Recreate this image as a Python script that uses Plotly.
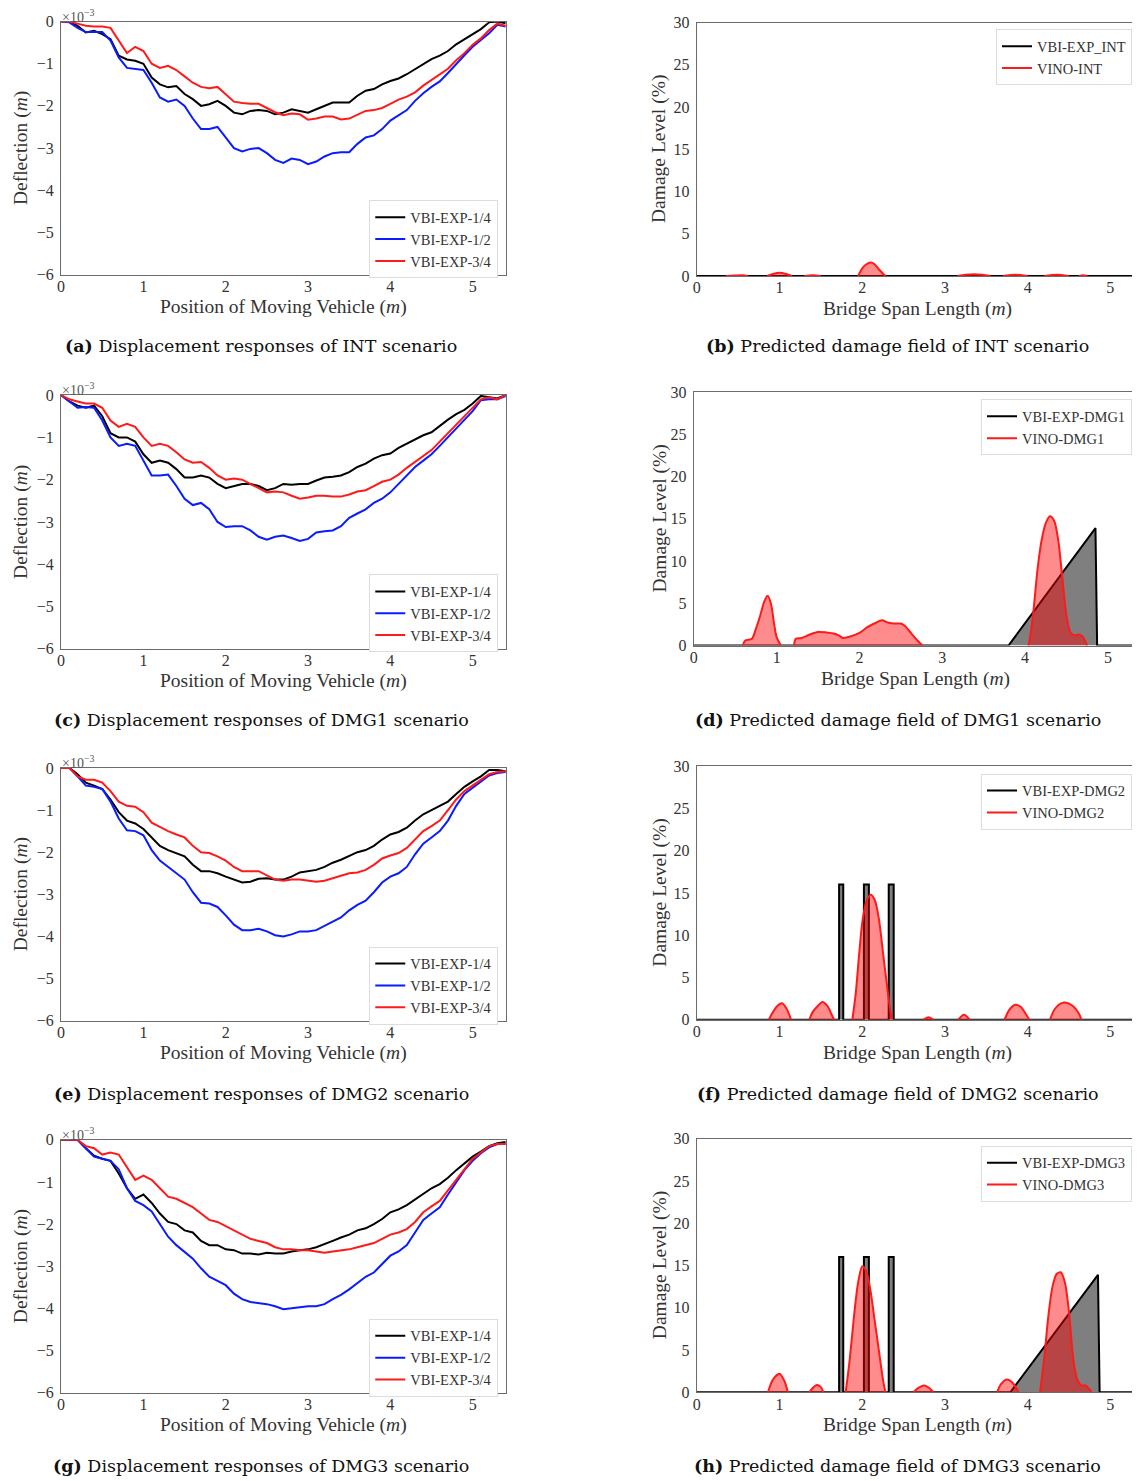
import numpy as np
import plotly.graph_objects as go

# ---------------- data ----------------
pos = [round(v, 1) for v in np.arange(0, 5.45, 0.1)]  # vehicle position grid (m)

int_b = [0, 0, -0.1, -0.26, -0.22, -0.3, -0.42, -0.81, -0.9, -0.93, -1.0, -1.33, -1.49, -1.56, -1.53, -1.72, -1.84, -2.0, -1.96, -1.88, -2.0, -2.16, -2.2, -2.12, -2.1, -2.12, -2.2, -2.16, -2.08, -2.12, -2.16, -2.08, -2.0, -1.92, -1.92, -1.92, -1.76, -1.64, -1.6, -1.49, -1.41, -1.35, -1.25, -1.13, -1.01, -0.89, -0.81, -0.7, -0.54, -0.42, -0.3, -0.18, -0.02, 0, -0.04]
int_u = [0, -0.02, -0.15, -0.25, -0.25, -0.25, -0.45, -0.85, -1.1, -1.12, -1.15, -1.45, -1.8, -1.9, -1.85, -2.0, -2.3, -2.55, -2.55, -2.5, -2.75, -3.0, -3.08, -3.02, -3.0, -3.12, -3.28, -3.35, -3.25, -3.28, -3.38, -3.32, -3.2, -3.12, -3.1, -3.1, -2.9, -2.75, -2.7, -2.55, -2.35, -2.22, -2.1, -1.88, -1.7, -1.55, -1.42, -1.22, -1.0, -0.8, -0.6, -0.45, -0.28, -0.08, -0.12]
int_r = [0, 0, -0.05, -0.1, -0.12, -0.12, -0.15, -0.45, -0.75, -0.6, -0.7, -1.0, -1.1, -1.05, -1.15, -1.3, -1.45, -1.55, -1.58, -1.55, -1.72, -1.9, -1.93, -1.95, -1.95, -2.05, -2.15, -2.22, -2.18, -2.2, -2.33, -2.3, -2.25, -2.25, -2.32, -2.3, -2.2, -2.12, -2.1, -2.05, -1.95, -1.85, -1.78, -1.68, -1.52, -1.38, -1.25, -1.12, -0.92, -0.75, -0.55, -0.4, -0.2, -0.05, -0.1]

dmg1_b = [0, -0.15, -0.25, -0.3, -0.25, -0.5, -0.9, -1.0, -1.0, -1.1, -1.4, -1.6, -1.55, -1.6, -1.75, -1.95, -1.95, -1.9, -1.95, -2.1, -2.2, -2.15, -2.1, -2.1, -2.15, -2.25, -2.2, -2.1, -2.12, -2.1, -2.1, -2.02, -1.95, -1.93, -1.9, -1.82, -1.7, -1.62, -1.5, -1.42, -1.38, -1.25, -1.15, -1.05, -0.95, -0.88, -0.72, -0.58, -0.45, -0.35, -0.2, -0.02, -0.05, -0.08, 0]
dmg1_u = [0, -0.15, -0.3, -0.28, -0.3, -0.6, -1.0, -1.2, -1.15, -1.2, -1.55, -1.9, -1.9, -1.88, -2.15, -2.45, -2.6, -2.55, -2.7, -3.0, -3.12, -3.1, -3.1, -3.2, -3.35, -3.42, -3.35, -3.32, -3.38, -3.45, -3.4, -3.25, -3.22, -3.2, -3.1, -2.9, -2.8, -2.7, -2.55, -2.45, -2.3, -2.1, -1.9, -1.7, -1.55, -1.4, -1.2, -1.0, -0.8, -0.6, -0.38, -0.12, -0.1, -0.1, -0.02]
dmg1_r = [0, -0.1, -0.15, -0.2, -0.2, -0.3, -0.6, -0.75, -0.68, -0.75, -1.0, -1.2, -1.15, -1.2, -1.35, -1.52, -1.6, -1.58, -1.72, -1.9, -2.0, -1.97, -2.0, -2.1, -2.2, -2.3, -2.28, -2.3, -2.38, -2.45, -2.42, -2.38, -2.38, -2.4, -2.4, -2.35, -2.28, -2.25, -2.15, -2.05, -2.0, -1.88, -1.72, -1.58, -1.45, -1.3, -1.1, -0.9, -0.7, -0.5, -0.3, -0.1, -0.05, -0.1, 0]

dmg2_b = [0, 0, -0.15, -0.35, -0.42, -0.5, -0.75, -1.05, -1.25, -1.32, -1.45, -1.65, -1.85, -1.95, -2.02, -2.1, -2.3, -2.45, -2.45, -2.5, -2.58, -2.65, -2.72, -2.7, -2.63, -2.62, -2.65, -2.65, -2.58, -2.48, -2.45, -2.42, -2.35, -2.25, -2.18, -2.08, -2.0, -1.95, -1.85, -1.7, -1.58, -1.52, -1.42, -1.25, -1.1, -1.0, -0.9, -0.8, -0.62, -0.45, -0.32, -0.2, -0.05, -0.05, -0.08]
dmg2_u = [0, 0, -0.2, -0.42, -0.45, -0.5, -0.8, -1.2, -1.48, -1.5, -1.6, -1.95, -2.2, -2.35, -2.5, -2.65, -2.95, -3.2, -3.22, -3.3, -3.5, -3.72, -3.85, -3.85, -3.82, -3.88, -3.97, -4.0, -3.95, -3.88, -3.88, -3.85, -3.75, -3.65, -3.55, -3.38, -3.25, -3.15, -2.95, -2.72, -2.58, -2.5, -2.35, -2.05, -1.8, -1.65, -1.5, -1.25, -0.9, -0.62, -0.48, -0.32, -0.18, -0.12, -0.1]
dmg2_r = [0, 0, -0.2, -0.28, -0.28, -0.35, -0.55, -0.8, -0.9, -0.92, -1.05, -1.3, -1.4, -1.5, -1.58, -1.65, -1.85, -2.0, -2.02, -2.1, -2.2, -2.35, -2.45, -2.45, -2.45, -2.55, -2.65, -2.68, -2.65, -2.65, -2.68, -2.7, -2.68, -2.62, -2.55, -2.5, -2.48, -2.42, -2.3, -2.15, -2.08, -2.02, -1.9, -1.7, -1.5, -1.38, -1.25, -1.0, -0.75, -0.55, -0.42, -0.28, -0.15, -0.1, -0.08]

dmg3_b = [0, 0, 0, -0.2, -0.38, -0.45, -0.5, -0.8, -1.15, -1.4, -1.3, -1.5, -1.75, -1.95, -2.0, -2.15, -2.2, -2.4, -2.5, -2.5, -2.6, -2.62, -2.7, -2.7, -2.72, -2.68, -2.7, -2.7, -2.65, -2.62, -2.6, -2.55, -2.48, -2.4, -2.32, -2.25, -2.15, -2.1, -2.0, -1.88, -1.72, -1.65, -1.55, -1.42, -1.28, -1.15, -1.05, -0.9, -0.72, -0.55, -0.4, -0.28, -0.15, -0.08, -0.05]
dmg3_u = [0, 0, 0, -0.2, -0.4, -0.45, -0.5, -0.7, -1.15, -1.45, -1.55, -1.7, -2.0, -2.3, -2.5, -2.65, -2.82, -3.05, -3.25, -3.35, -3.45, -3.65, -3.78, -3.85, -3.87, -3.9, -3.95, -4.02, -4.0, -3.97, -3.95, -3.95, -3.9, -3.78, -3.68, -3.55, -3.4, -3.25, -3.15, -2.95, -2.75, -2.65, -2.5, -2.2, -1.9, -1.75, -1.6, -1.3, -1.0, -0.72, -0.5, -0.32, -0.18, -0.1, -0.1]
dmg3_r = [0, 0, 0, -0.15, -0.2, -0.35, -0.3, -0.35, -0.65, -0.95, -0.85, -0.95, -1.15, -1.35, -1.4, -1.5, -1.6, -1.75, -1.9, -1.95, -2.05, -2.15, -2.25, -2.35, -2.4, -2.45, -2.55, -2.6, -2.6, -2.62, -2.62, -2.65, -2.68, -2.65, -2.62, -2.6, -2.55, -2.5, -2.45, -2.35, -2.25, -2.2, -2.12, -1.95, -1.72, -1.58, -1.45, -1.2, -0.95, -0.7, -0.45, -0.3, -0.15, -0.1, -0.1]

# damage fields (span position m, damage %); None separates bumps
exp_int_x = [0, 5.4]
exp_int_y = [0, 0]
vino_int_x = [0.35, 0.45, 0.55, 0.62, None, 0.85, 0.92, 1.0, 1.08, 1.15, None, 1.3, 1.4, 1.5, None,
              1.95, 2.0, 2.05, 2.1, 2.15, 2.2, 2.28, None, 3.15, 3.25, 3.35, 3.45, 3.55, None,
              3.7, 3.85, 4.0, None, 4.2, 4.35, 4.5, None, 4.62, 4.67, 4.72]
vino_int_y = [0, 0.05, 0.08, 0, None, 0, 0.25, 0.4, 0.25, 0, None, 0, 0.1, 0, None,
              0, 0.9, 1.4, 1.6, 1.4, 0.8, 0, None, 0, 0.15, 0.22, 0.15, 0, None,
              0, 0.15, 0, None, 0, 0.15, 0, None, 0, 0.1, 0]

exp_dmg1_x = [0, 3.8, 4.85, 4.87, 5.4]
exp_dmg1_y = [0, 0, 13.9, 0, 0]
vino_dmg1_x = [0.59, 0.62, 0.7, 0.75, 0.8, 0.85, 0.89, 0.93, 0.97, 1.0, 1.05, None,
               1.21, 1.23, 1.3, 1.4, 1.5, 1.6, 1.7, 1.75, 1.8, 1.9, 2.0, 2.1, 2.2, 2.27, 2.35, 2.45, 2.5, 2.55, 2.62, 2.7, 2.76, None,
               4.04, 4.06, 4.1, 4.15, 4.2, 4.25, 4.3, 4.35, 4.4, 4.45, 4.5, 4.55, 4.6, 4.65, 4.7, 4.75]
vino_dmg1_y = [0, 0.6, 0.8, 2.0, 3.5, 5.2, 5.9, 5.0, 2.5, 1.0, 0, None,
               0, 0.8, 0.9, 1.3, 1.6, 1.55, 1.4, 1.2, 0.9, 1.1, 1.5, 2.2, 2.7, 3.0, 2.7, 2.6, 2.6, 2.3, 1.5, 0.6, 0, None,
               0, 1, 4, 9, 12.5, 14.5, 15.3, 14.8, 12.5, 8, 3.5, 1.5, 1.2, 1.3, 1.0, 0]

exp_dmg2_x = [0, 1.72, 1.72, 1.77, 1.77, 2.02, 2.02, 2.08, 2.08, 2.32, 2.32, 2.38, 2.38, 5.4]
exp_dmg2_y = [0, 0, 16, 16, 0, 0, 16, 16, 0, 0, 16, 16, 0, 0]
vino_dmg2_x = [0.87, 0.92, 0.97, 1.03, 1.08, 1.14, None, 1.36, 1.4, 1.45, 1.52, 1.58, 1.63, 1.66, None,
               1.88, 1.92, 1.96, 2.0, 2.05, 2.1, 2.15, 2.2, 2.25, 2.3, 2.34, 2.36, None,
               2.74, 2.8, 2.86, None, 3.16, 3.23, 3.3, None, 3.72, 3.78, 3.85, 3.92, 3.97, 4.02, None,
               4.27, 4.33, 4.42, 4.5, 4.56, 4.62, 4.65]
vino_dmg2_y = [0, 0.9, 1.6, 1.95, 1.4, 0, None, 0, 0.9, 1.5, 2.1, 1.6, 0.6, 0, None,
               0, 3, 7.5, 11.5, 14, 14.8, 14.2, 12, 8, 4, 1, 0, None,
               0, 0.3, 0, None, 0, 0.6, 0, None, 0, 1.2, 1.78, 1.5, 0.8, 0, None,
               0, 1.3, 2.0, 1.9, 1.5, 0.7, 0]

exp_dmg3_x = [0, 1.72, 1.72, 1.77, 1.77, 2.02, 2.02, 2.08, 2.08, 2.32, 2.32, 2.38, 2.38, 3.79, 4.85, 4.87, 5.4]
exp_dmg3_y = [0, 0, 16, 16, 0, 0, 16, 16, 0, 0, 16, 16, 0, 0, 13.9, 0, 0]
vino_dmg3_x = [0.86, 0.92, 1.0, 1.06, 1.1, None, 1.36, 1.41, 1.45, 1.5, 1.53, None,
               1.8, 1.85, 1.9, 1.95, 2.0, 2.05, 2.1, 2.15, 2.2, 2.25, 2.28, None,
               2.62, 2.67, 2.75, 2.81, 2.86, None, 3.63, 3.68, 3.75, 3.82, 3.89, None,
               4.15, 4.2, 4.25, 4.3, 4.35, 4.4, 4.45, 4.5, 4.55, 4.6, 4.65, 4.7, 4.75, 4.77]
vino_dmg3_y = [0, 1.5, 2.2, 1.3, 0, None, 0, 0.6, 0.85, 0.6, 0, None,
               0, 4, 9, 13, 14.9, 14.3, 12, 8.5, 5, 1.5, 0, None,
               0, 0.45, 0.8, 0.5, 0, None, 0, 1.0, 1.5, 1.1, 0, None,
               0, 4, 9, 12.5, 14, 14.2, 13, 9.5, 4, 1.5, 0.8, 0.8, 0.3, 0]

disp_names = ["VBI-EXP-1/4", "VBI-EXP-1/2", "VBI-EXP-3/4"]
scenarios = ["INT", "DMG1", "DMG2", "DMG3"]
disp_data = [(int_b, int_u, int_r), (dmg1_b, dmg1_u, dmg1_r), (dmg2_b, dmg2_u, dmg2_r), (dmg3_b, dmg3_u, dmg3_r)]
dmg_data = [
    ("VBI-EXP_INT", exp_int_x, exp_int_y, "VINO-INT", vino_int_x, vino_int_y),
    ("VBI-EXP-DMG1", exp_dmg1_x, exp_dmg1_y, "VINO-DMG1", vino_dmg1_x, vino_dmg1_y),
    ("VBI-EXP-DMG2", exp_dmg2_x, exp_dmg2_y, "VINO-DMG2", vino_dmg2_x, vino_dmg2_y),
    ("VBI-EXP-DMG3", exp_dmg3_x, exp_dmg3_y, "VINO-DMG3", vino_dmg3_x, vino_dmg3_y),
]
left_letters = ["a", "c", "e", "g"]
right_letters = ["b", "d", "f", "h"]

# ---------------- layout geometry ----------------
# target positions are given in picture pixels; they are mapped to figure pixels
# (body margin 8px; small measured correction of the captured picture)
MARGIN = 8
SY, OY, OX = 0.988, 9.0, 2.0
W, H = 1140 - 2 * MARGIN, 1481
def fig_x(x):
    return x - OX - MARGIN
def fig_y(y):
    return y / SY - OY - MARGIN
def px(x):
    return min(max(fig_x(x) / W, 0), 1)
def py(y):
    return min(max(1 - fig_y(y) / H, 0), 1)

RIGHT_EDGE = W + MARGIN + OX  # picture x of the figure's right edge
left_box = [(59.3, 505.7, 22.3, 275.3), (59.3, 505.7, 395.7, 649.3), (59.3, 505.7, 768.3, 1021), (59.3, 505.7, 1140, 1392.7)]
right_box = [(697.3, RIGHT_EDGE, 23.3, 276.7), (694.3, RIGHT_EDGE, 392.7, 646), (697.3, RIGHT_EDGE, 766.7, 1020), (697.3, RIGHT_EDGE, 1139, 1392.3)]
left_leg_top = [201, 575, 947, 1319]
right_leg_top = [30, 400, 774, 1146]
caption_y = [346.5, 720, 1094, 1466]

SERIF = "Liberation Serif"
TXT = "#333333"
SPINE = "#6b6b6b"
tickfont = dict(family=SERIF, size=16, color=TXT)

fig = go.Figure()
layout = dict(width=W, height=H, margin=dict(l=0, r=0, t=0, b=0), autosize=False,
              paper_bgcolor="white", plot_bgcolor="white", showlegend=True)
annotations = []

colors = ["black", "#0a1cff", "#ff1a1a"]

for i in range(4):
    # ---------- left: displacement ----------
    n = 2 * i + 1
    xa, ya = ("x" if n == 1 else f"x{n}"), ("y" if n == 1 else f"y{n}")
    xk, yk = ("xaxis" if n == 1 else f"xaxis{n}"), ("yaxis" if n == 1 else f"yaxis{n}")
    leg = "legend" if n == 1 else f"legend{n}"
    x0, x1, y0, y1 = left_box[i]
    for name, yv, c in zip(disp_names, disp_data[i], colors):
        fig.add_trace(go.Scatter(x=pos, y=yv, mode="lines", name=name, line=dict(color=c, width=2),
                                 xaxis=xa, yaxis=ya, legend=leg))
    layout[xk] = dict(domain=[px(x0), px(x1)], range=[0, (x1 - x0) / 82.6], anchor=ya,
                      tickvals=[0, 1, 2, 3, 4, 5], showgrid=False, zeroline=False,
                      showline=True, linecolor=SPINE, linewidth=1.2, mirror=True,
                      ticks="", ticklabelstandoff=-3, tickfont=tickfont)
    layout[yk] = dict(domain=[py(y1), py(y0)], range=[-6, 0], anchor=xa,
                      tickvals=[-6, -5, -4, -3, -2, -1, 0],
                      ticktext=["\u22126", "\u22125", "\u22124", "\u22123", "\u22122", "\u22121", "0"],
                      showgrid=False, zeroline=False, showline=True, linecolor=SPINE, linewidth=1.2,
                      mirror=True, ticks="outside", ticklen=3, tickcolor="rgba(0,0,0,0)", tickfont=tickfont)
    layout[leg] = dict(x=px(498), y=py(left_leg_top[i]), xanchor="right", yanchor="top",
                       bgcolor="white", bordercolor="#dddddd", borderwidth=1,
                       font=dict(family=SERIF, size=14.5, color=TXT), tracegroupgap=0)
    annotations.append(dict(x=px((x0 + x1) / 2), y=py(y1 + 32), xref="paper", yref="paper",
                            text="Position of Moving Vehicle (<i>m</i>)", showarrow=False,
                            font=dict(family=SERIF, size=19.5, color=TXT), xanchor="center", yanchor="middle"))
    annotations.append(dict(x=px(19), y=py((y0 + y1) / 2), xref="paper", yref="paper",
                            text="Deflection (<i>m</i>)", showarrow=False, textangle=-90,
                            font=dict(family=SERIF, size=19.5, color=TXT), xanchor="center", yanchor="middle"))
    annotations.append(dict(x=px(x0 - 1), y=py(y0 - 6), xref="paper", yref="paper",
                            text="\u00d710<sup>\u22123</sup>", showarrow=False,
                            font=dict(family=SERIF, size=14, color="#555555"), xanchor="left", yanchor="middle"))
    annotations.append(dict(x=px(260), y=py(caption_y[i]), xref="paper", yref="paper",
                            text=f"<b>({left_letters[i]})</b> Displacement responses of {scenarios[i]} scenario",
                            showarrow=False, font=dict(family="DejaVu Serif", size=17.5, color="#111111"),
                            xanchor="center", yanchor="middle"))

    # ---------- right: damage field ----------
    n = 2 * i + 2
    xa, ya = f"x{n}", f"y{n}"
    xk, yk = f"xaxis{n}", f"yaxis{n}"
    leg = f"legend{n}"
    x0, x1, y0, y1 = right_box[i]
    ename, ex, ey, vname, vx, vy = dmg_data[i]
    scale = 83.1 if i == 1 else 83.0
    fig.add_trace(go.Scatter(x=ex, y=ey, mode="lines", fill="tozeroy", fillcolor="rgba(0,0,0,0.5)",
                             line=dict(width=0, color="black"), showlegend=False, xaxis=xa, yaxis=ya, hoverinfo="skip"))
    fig.add_trace(go.Scatter(x=ex, y=ey, mode="lines", name=ename, line=dict(color="black", width=2),
                             xaxis=xa, yaxis=ya, legend=leg))
    fig.add_trace(go.Scatter(x=vx, y=vy, mode="lines", fill="tozeroy", fillcolor="rgba(255,0,0,0.45)",
                             line=dict(width=0, color="red", shape="spline", smoothing=0.8),
                             showlegend=False, connectgaps=False, xaxis=xa, yaxis=ya, hoverinfo="skip"))
    fig.add_trace(go.Scatter(x=vx, y=vy, mode="lines", name=vname,
                             line=dict(color="#ff1a1a", width=2, shape="spline", smoothing=0.8),
                             connectgaps=False, xaxis=xa, yaxis=ya, legend=leg))
    layout[xk] = dict(domain=[px(x0), px(x1)], range=[0, (x1 - x0) / scale], anchor=ya,
                      tickvals=[0, 1, 2, 3, 4, 5], showgrid=False, zeroline=False,
                      showline=True, linecolor=SPINE, linewidth=1.2, mirror=True,
                      ticks="", ticklabelstandoff=-3, tickfont=tickfont)
    layout[yk] = dict(domain=[py(y1), py(y0)], range=[0, 30], anchor=xa,
                      tickvals=[0, 5, 10, 15, 20, 25, 30],
                      showgrid=False, zeroline=False, showline=True, linecolor=SPINE, linewidth=1.2,
                      mirror=False, ticks="outside", ticklen=3, tickcolor="rgba(0,0,0,0)", tickfont=tickfont)
    layout[leg] = dict(x=px(1137), y=py(right_leg_top[i]), xanchor="right", yanchor="top",
                       bgcolor="white", bordercolor="#dddddd", borderwidth=1,
                       font=dict(family=SERIF, size=14.5, color=TXT), tracegroupgap=0)
    annotations.append(dict(x=px((x0 + 1140) / 2), y=py(y1 + 33), xref="paper", yref="paper",
                            text="Bridge Span Length (<i>m</i>)", showarrow=False,
                            font=dict(family=SERIF, size=19.5, color=TXT), xanchor="center", yanchor="middle"))
    annotations.append(dict(x=px(660), y=py((y0 + y1) / 2), xref="paper", yref="paper",
                            text="Damage Level (%)", showarrow=False, textangle=-90,
                            font=dict(family=SERIF, size=19.5, color=TXT), xanchor="center", yanchor="middle"))
    annotations.append(dict(x=px(899), y=py(caption_y[i]), xref="paper", yref="paper",
                            text=f"<b>({right_letters[i]})</b> Predicted damage field of {scenarios[i]} scenario",
                            showarrow=False, font=dict(family="DejaVu Serif", size=17.5, color="#111111"),
                            xanchor="center", yanchor="middle"))

layout["annotations"] = annotations
fig.update_layout(**layout)
fig.write_html("out.html", config={"displayModeBar": False})
